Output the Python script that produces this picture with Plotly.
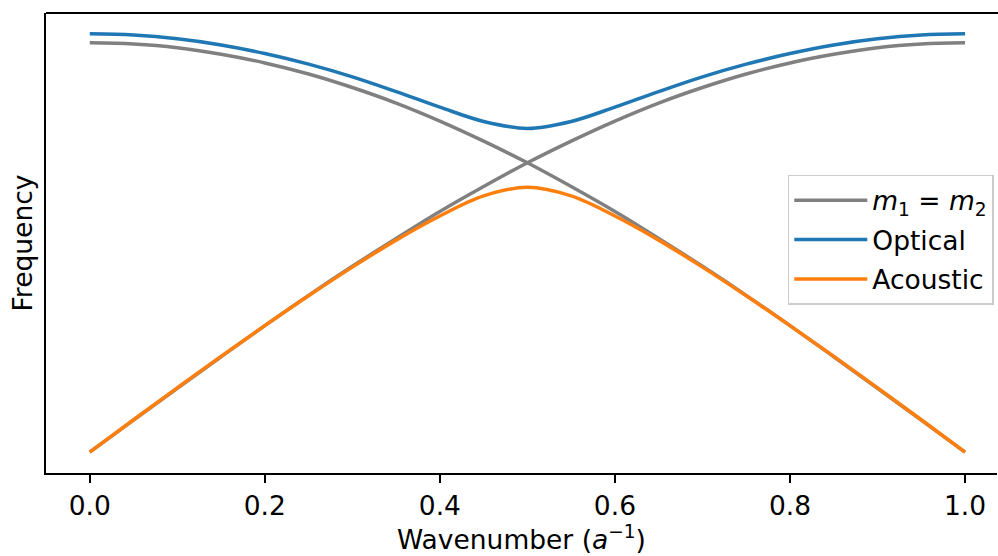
import plotly.graph_objects as go

# Wavenumber samples (a^-1)
wavenumber = [0.00, 0.05, 0.10, 0.15, 0.20, 0.25, 0.30, 0.35, 0.40, 0.45, 0.50,
              0.55, 0.60, 0.65, 0.70, 0.75, 0.80, 0.85, 0.90, 0.95, 1.00]

# m1 = m2 branches (gray)
equal_rising = [0.000, 0.078, 0.156, 0.233, 0.309, 0.383, 0.454, 0.522, 0.588, 0.649, 0.707,
                0.760, 0.809, 0.853, 0.891, 0.924, 0.951, 0.972, 0.988, 0.997, 1.000]
equal_falling = [1.000, 0.997, 0.988, 0.972, 0.951, 0.924, 0.891, 0.853, 0.809, 0.760, 0.707,
                 0.649, 0.588, 0.522, 0.454, 0.383, 0.309, 0.233, 0.156, 0.078, 0.000]

# Optical branch (blue)
optical = [1.022, 1.019, 1.010, 0.995, 0.974, 0.948, 0.917, 0.881, 0.843, 0.808, 0.791,
           0.808, 0.843, 0.881, 0.917, 0.948, 0.974, 0.995, 1.010, 1.019, 1.022]

# Acoustic branch (orange)
acoustic = [0.000, 0.079, 0.157, 0.234, 0.309, 0.382, 0.452, 0.518, 0.577, 0.626, 0.647,
            0.626, 0.577, 0.518, 0.452, 0.382, 0.309, 0.234, 0.157, 0.079, 0.000]

x_ticks = [0.0, 0.2, 0.4, 0.6, 0.8, 1.0]
x_tick_text = ["0.0", "0.2", "0.4", "0.6", "0.8", "1.0"]

GRAY = "#808080"
BLUE = "#1f77b4"
ORANGE = "#ff7f0e"
FONT = "DejaVu Sans"
FS = 26.5
LW = 3.5

fig = go.Figure()
fig.add_trace(go.Scatter(x=wavenumber, y=equal_rising, mode="lines",
                         line=dict(color=GRAY, width=LW, shape="spline"),
                         name="<i>m</i><sub>1</sub> = <i>m</i><sub>2</sub>",
                         legendgroup="g1", showlegend=True))
fig.add_trace(go.Scatter(x=wavenumber, y=equal_falling, mode="lines",
                         line=dict(color=GRAY, width=LW, shape="spline"),
                         legendgroup="g1", showlegend=False))
fig.add_trace(go.Scatter(x=wavenumber, y=optical, mode="lines",
                         line=dict(color=BLUE, width=LW, shape="spline"),
                         name="Optical", legendgroup="g2"))
fig.add_trace(go.Scatter(x=wavenumber, y=acoustic, mode="lines",
                         line=dict(color=ORANGE, width=LW, shape="spline"),
                         name="Acoustic", legendgroup="g3"))

fig.update_layout(
    width=998, height=556,
    margin=dict(l=46, r=1, t=13, b=83),
    paper_bgcolor="white", plot_bgcolor="white",
    font=dict(family=FONT, size=FS, color="black"),
    xaxis=dict(range=[-0.05, 1.0365], tickvals=x_ticks, ticktext=x_tick_text,
               showgrid=False, zeroline=False, showline=True, linecolor="black",
               linewidth=1.9, ticks="outside", ticklen=8, tickwidth=1.9,
               tickcolor="black", tickfont=dict(size=FS),
               title=dict(text="Wavenumber (<i>a</i><sup>\u22121</sup>)",
                          font=dict(size=FS), standoff=5)),
    yaxis=dict(range=[-0.0511, 1.073], showgrid=False, zeroline=False,
               showline=True, linecolor="black", linewidth=1.9,
               showticklabels=False, ticks="",
               title=dict(text="Frequency", font=dict(size=FS), standoff=4)),
    legend=dict(x=0.780, y=0.648, xanchor="left", yanchor="top",
                bgcolor="rgba(255,255,255,0.8)", bordercolor="#cccccc",
                borderwidth=1.5, font=dict(size=FS), tracegroupgap=2,
                itemwidth=73),
    shapes=[dict(type="line", xref="paper", yref="paper", x0=0, x1=1.01, y0=1, y1=1,
                 line=dict(color="black", width=1.9))],
)

fig.write_html("out.html")
